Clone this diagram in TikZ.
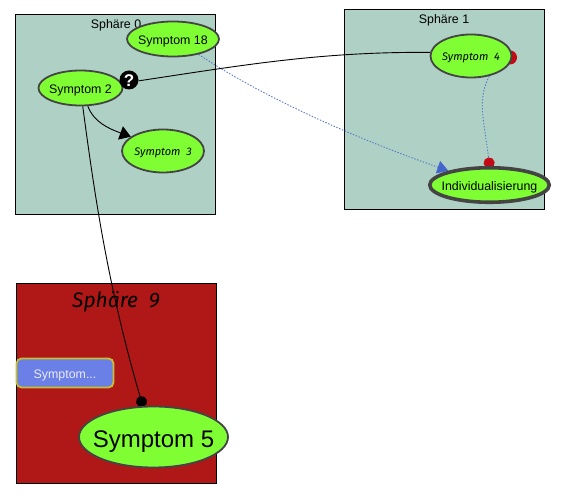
\documentclass[tikz,border=0pt]{standalone}
\usepackage{fontspec}
\setmainfont{Liberation Sans}
\newfontfamily\handfont{Fira Sans}
\usetikzlibrary{shapes.geometric,arrows.meta}
\pgfdeclarelayer{back}
\pgfdeclarelayer{mid}
\pgfsetlayers{back,mid,main}
\definecolor{sphere}{HTML}{AFD0C4}
\definecolor{redsphere}{HTML}{B01818}
\definecolor{sympt}{HTML}{7FFF33}
\definecolor{rim}{HTML}{444444}
\definecolor{dotblue}{HTML}{5577CC}
\definecolor{tipblue}{HTML}{4466CC}
\definecolor{dotred}{HTML}{C40A14}
\definecolor{btn}{HTML}{6A80E6}
\definecolor{btnrim}{HTML}{C9BE2E}
\newcommand{\ctr}[2][1pt]{\makebox[0pt]{\raisebox{\dimexpr-0.5\height-#1\relax}[0pt][0pt]{#2}}}
\newcommand{\rob}{\fontsize{12.4}{14}\selectfont}
\newcommand{\hand}{\fontsize{11}{14}\selectfont\handfont\itshape}
\tikzset{
  spherebox/.style={draw=black,line width=1pt,fill=sphere,minimum width=200pt,minimum height=200pt,inner sep=0pt},
  sphlabel/.style={inner sep=0pt,font=\rob},
  symp/.style={ellipse,draw=rim,line width=1.8pt,fill=sympt,inner sep=0pt,font=\rob},
  solidedge/.style={draw=black,line width=0.9pt},
  dotedge/.style={draw=dotblue,line width=0.9pt,dash pattern=on 1.4pt off 1.6pt},
}
\begin{document}
\begin{tikzpicture}[x=1pt,y=-1pt]
\useasboundingbox (0,0) rectangle (568,502);
% symptom nodes
\node[symp,minimum width=92pt,minimum height=35pt] (s18) at (173,39) {\ctr{Symptom 18}};
\node[symp,minimum width=84pt,minimum height=35pt] (s2) at (80.5,88) {\ctr{Symptom 2}};
\node[symp,minimum width=82pt,minimum height=43pt] (s3) at (163,151) {\ctr{\hand Symptom\ \ 3}};
\node[symp,minimum width=81pt,minimum height=43pt] (s4) at (471,56) {\ctr{\hand Symptom\ \ 4}};
\node[symp,line width=3.6pt,minimum width=119.5pt,minimum height=34.5pt] (ind) at (489.5,185) {\ctr{Individualisierung}};
\node[symp,minimum width=149pt,minimum height=61pt,font=\fontsize{24}{28}\selectfont] (s5) at (153.5,437) {\ctr[2.5pt]{Symptom 5}};
\node[rectangle,rounded corners=5pt,draw=btnrim,line width=1.8pt,fill=btn,text=white!92!blue,minimum width=97pt,minimum height=29pt,inner sep=0pt,font=\rob] (btnsym) at (65,373) {\ctr{Symptom...}};
\node[circle,fill=black,minimum size=19pt,inner sep=0pt,text=white,font=\fontsize{17}{17}\selectfont\bfseries] (q) at (129,80) {\ctr[0.3pt]{?}};
\begin{pgfonlayer}{back}
\node[spherebox] (b0) at (115.5,114.5) {};
\node[spherebox] (b1) at (444.5,109.5) {};
\node[spherebox,fill=redsphere] (b9) at (116.5,383.5) {};
\node[sphlabel] (l0) at (116,25.5) {Sphäre 0};
\node[sphlabel] (l1) at (444,20.5) {Sphäre 1};
\node[sphlabel,font=\fontsize{21}{26}\selectfont\handfont\itshape] (l9) at (116,302) {Sphäre\ \ 9};
\end{pgfonlayer}
\begin{pgfonlayer}{mid}
\node[circle,fill=dotred,minimum size=14pt,inner sep=0pt] (rd) at (510,57.5) {};
\path[solidedge] (q.-5) .. controls +(100,-15) and +(-110,-1) .. (s4.175);
\path[solidedge,-{Triangle[length=11pt,width=14pt]}] (s2.-68) .. controls +(6,16) and +(-22,-8) .. (s3.156);
\path[solidedge,shorten >=-1pt,-{Circle[length=11pt,width=11pt]}] (s2.-83) .. controls +(12,90) and +(-35,-120) .. (s5.109);
\path[dotedge,-{Triangle[length=11pt,width=13pt,color=tipblue,fill=tipblue]}] (s18.-31) .. controls +(60,40) and +(-100,-35) .. (ind.161);
\path[dotedge,shorten >=-2.5pt,-{Circle[length=11pt,width=11pt,color=dotred,fill=dotred]}] (s4.-48) .. controls +(-12,25) and +(-6,-50) .. (ind.north);
\end{pgfonlayer}
\end{tikzpicture}
\end{document}
